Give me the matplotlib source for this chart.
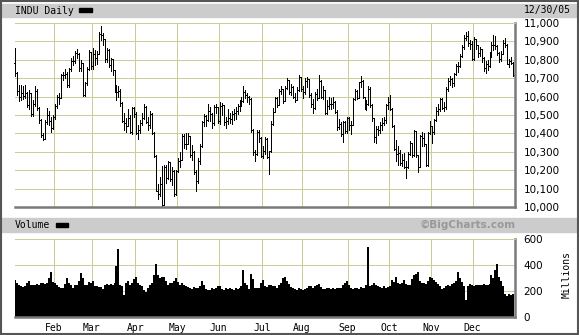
import numpy as np
import matplotlib
matplotlib.use("Agg")
import matplotlib.pyplot as plt
from matplotlib.patches import Rectangle

# trading days per month, Jan..Dec 2005
month_days = [20, 19, 22, 21, 21, 22, 20, 23, 21, 21, 21, 21]
month_labels = ['Feb', 'Mar', 'Apr', 'May', 'Jun', 'Jul', 'Aug', 'Sep', 'Oct', 'Nov', 'Dec']

first_open = 10783

close = [
    10729, 10630, 10597, 10622, 10603, 10621, 10556, 10617, 10505, 10558, 10628, 10539, 10471, 10392, 10368, 10461, 10498, 10467, 10427, 10489,
    10551, 10597, 10593, 10716, 10715, 10724, 10664, 10749, 10796, 10791, 10837, 10834, 10754, 10785, 10611, 10673, 10748, 10841, 10766,
    10830, 10811, 10833, 10940, 10936, 10912, 10805, 10851, 10774, 10804, 10745, 10633, 10626, 10629, 10565, 10470, 10456, 10442, 10485, 10405, 10540, 10504,
    10404, 10421, 10458, 10486, 10546, 10461, 10448, 10508, 10403, 10278, 10087, 10071, 10127, 10012, 10218, 10157, 10242, 10151, 10198, 10070, 10193,
    10251, 10257, 10384, 10340, 10345, 10384, 10281, 10300, 10189, 10140, 10252, 10332, 10464, 10493, 10471, 10523, 10503, 10457, 10542, 10542, 10467,
    10549, 10553, 10460, 10467, 10483, 10476, 10503, 10512, 10523, 10547, 10566, 10578, 10623, 10609, 10596, 10587, 10421, 10297, 10290, 10405, 10374, 10275,
    10303, 10371, 10270, 10303, 10449, 10519, 10590, 10557, 10628, 10640, 10575, 10646, 10689, 10627, 10651, 10596, 10579, 10637, 10705, 10641,
    10623, 10683, 10697, 10610, 10558, 10536, 10615, 10594, 10686, 10600, 10634, 10513, 10550, 10559, 10559, 10569, 10519, 10434, 10450, 10397, 10463, 10413, 10482,
    10447, 10447, 10589, 10633, 10595, 10678, 10683, 10597, 10544, 10558, 10641, 10557, 10481, 10378, 10422, 10419, 10443, 10456, 10473, 10552, 10569,
    10535, 10441, 10317, 10287, 10292, 10238, 10253, 10217, 10216, 10287, 10348, 10285, 10414, 10281, 10215, 10385, 10377, 10344, 10229, 10402, 10440,
    10406, 10472, 10523, 10531, 10586, 10539, 10546, 10640, 10686, 10697, 10675, 10721, 10766, 10766, 10820, 10872, 10916, 10931, 10890, 10888, 10806,
    10912, 10878, 10835, 10856, 10810, 10755, 10778, 10767, 10823, 10883, 10881, 10875, 10836, 10805, 10833, 10889, 10883, 10777, 10796, 10784, 10718,
]

high = [
    10864, 10736, 10665, 10662, 10660, 10665, 10625, 10635, 10618, 10580, 10660, 10640, 10545, 10480, 10400, 10475, 10540, 10520, 10490, 10500,
    10560, 10610, 10620, 10725, 10735, 10750, 10735, 10755, 10810, 10820, 10850, 10860, 10835, 10800, 10785, 10680, 10760, 10855, 10845,
    10865, 10855, 10850, 10950, 10985, 10945, 10915, 10865, 10860, 10810, 10805, 10745, 10665, 10660, 10640, 10570, 10510, 10485, 10530, 10500, 10545, 10545,
    10515, 10445, 10475, 10510, 10560, 10550, 10490, 10520, 10510, 10405, 10280, 10125, 10165, 10225, 10230, 10230, 10250, 10245, 10215, 10200, 10200,
    10265, 10300, 10395, 10395, 10400, 10400, 10385, 10335, 10305, 10200, 10265, 10345, 10470, 10505, 10500, 10560, 10545, 10510, 10555, 10560, 10545,
    10570, 10565, 10550, 10490, 10530, 10510, 10520, 10535, 10545, 10560, 10580, 10600, 10656, 10635, 10620, 10605, 10595, 10425, 10310, 10420, 10420, 10380,
    10330, 10380, 10375, 10305, 10465, 10540, 10600, 10600, 10640, 10660, 10640, 10660, 10700, 10690, 10670, 10655, 10620, 10650, 10720, 10705,
    10660, 10700, 10705, 10695, 10620, 10585, 10625, 10640, 10715, 10690, 10655, 10635, 10580, 10600, 10595, 10600, 10575, 10525, 10480, 10460, 10470, 10465, 10490,
    10490, 10470, 10590, 10640, 10635, 10680, 10710, 10690, 10600, 10580, 10655, 10650, 10560, 10485, 10440, 10440, 10460, 10485, 10490, 10560, 10600,
    10610, 10540, 10445, 10365, 10330, 10310, 10290, 10295, 10250, 10300, 10360, 10350, 10420, 10415, 10285, 10390, 10410, 10400, 10345, 10410, 10470,
    10440, 10480, 10545, 10560, 10590, 10590, 10570, 10650, 10700, 10710, 10700, 10730, 10775, 10790, 10830, 10880, 10935, 10950, 10955, 10905, 10900,
    10925, 10915, 10880, 10870, 10860, 10815, 10795, 10800, 10840, 10895, 10935, 10930, 10880, 10840, 10850, 10905, 10920, 10885, 10805, 10815, 10790,
]

low = [
    10711, 10610, 10575, 10580, 10585, 10590, 10545, 10530, 10495, 10495, 10550, 10525, 10455, 10380, 10365, 10370, 10450, 10445, 10410, 10425,
    10480, 10540, 10560, 10590, 10690, 10700, 10650, 10650, 10740, 10770, 10780, 10810, 10740, 10740, 10605, 10605, 10665, 10745, 10750,
    10750, 10770, 10775, 10830, 10905, 10880, 10790, 10790, 10760, 10740, 10720, 10625, 10580, 10600, 10550, 10460, 10420, 10410, 10440, 10400, 10395, 10490,
    10395, 10370, 10400, 10445, 10480, 10455, 10420, 10430, 10395, 10270, 10085, 10045, 10060, 10005, 10015, 10130, 10150, 10140, 10120, 10060, 10065,
    10190, 10215, 10255, 10320, 10315, 10340, 10270, 10255, 10180, 10085, 10130, 10235, 10325, 10440, 10440, 10465, 10470, 10430, 10445, 10510, 10455,
    10450, 10500, 10445, 10430, 10450, 10455, 10450, 10475, 10480, 10505, 10520, 10550, 10570, 10590, 10570, 10560, 10410, 10280, 10250, 10285, 10355, 10270,
    10265, 10290, 10265, 10180, 10300, 10445, 10515, 10545, 10555, 10615, 10565, 10575, 10640, 10615, 10610, 10590, 10570, 10580, 10630, 10630,
    10595, 10615, 10650, 10600, 10545, 10510, 10535, 10580, 10590, 10590, 10585, 10505, 10505, 10530, 10535, 10540, 10510, 10420, 10425, 10385, 10355, 10400, 10400,
    10420, 10395, 10445, 10580, 10585, 10590, 10650, 10590, 10530, 10525, 10555, 10545, 10470, 10355, 10350, 10390, 10400, 10420, 10445, 10455, 10530,
    10525, 10435, 10310, 10250, 10230, 10230, 10225, 10210, 10155, 10210, 10280, 10270, 10275, 10270, 10190, 10220, 10330, 10330, 10225, 10225, 10395,
    10350, 10395, 10465, 10500, 10520, 10530, 10520, 10530, 10630, 10665, 10650, 10660, 10715, 10735, 10760, 10815, 10860, 10905, 10875, 10860, 10800,
    10800, 10860, 10815, 10820, 10790, 10740, 10730, 10745, 10760, 10815, 10855, 10860, 10825, 10790, 10795, 10830, 10870, 10775, 10760, 10775, 10710,
]

# volume in millions
volume = [
    284, 265, 250, 235, 233, 240, 260, 280, 250, 245, 250, 255, 245, 262, 258, 255, 262, 300, 350, 270,
    260, 245, 230, 220, 225, 255, 297, 265, 250, 225, 245, 250, 275, 340, 300, 250, 245, 270, 260,
    275, 240, 235, 232, 230, 212, 250, 255, 245, 255, 250, 265, 390, 522, 250, 240, 170, 260, 275, 250, 260, 295,
    305, 260, 250, 235, 205, 195, 225, 250, 265, 320, 410, 320, 300, 310, 305, 280, 250, 260, 265, 280, 300,
    270, 250, 265, 245, 240, 230, 225, 215, 230, 220, 225, 240, 280, 245, 215, 210, 210, 220, 215, 225, 235,
    240, 215, 210, 220, 215, 225, 215, 210, 225, 215, 220, 240, 362, 265, 245, 215, 330, 290, 225, 220, 220, 260,
    285, 240, 230, 250, 245, 235, 240, 225, 250, 265, 300, 310, 280, 255, 230, 225, 215, 210, 220, 215,
    210, 215, 220, 240, 235, 225, 240, 245, 255, 230, 215, 215, 220, 225, 215, 220, 215, 220, 225, 225, 245, 260, 275,
    250, 225, 215, 220, 225, 215, 230, 220, 225, 250, 540, 235, 245, 260, 245, 235, 230, 225, 235, 225, 230,
    240, 285, 270, 305, 260, 255, 260, 285, 255, 250, 245, 290, 320, 330, 345, 280, 260, 265, 255, 280, 305,
    300, 285, 270, 255, 240, 215, 225, 240, 250, 235, 255, 260, 280, 350, 300, 270, 240, 130, 235, 255, 250,
    240, 250, 245, 250, 245, 255, 250, 245, 255, 320, 300, 365, 410, 310, 280, 240, 175, 160, 180, 170, 180,
]

W, H = 579, 335
GRID = '#CCCC99'
FRAME = '#7a7a7a'


def fx(x):
    return x / W


def fy(y):
    return 1 - y / H


days = np.arange(len(close))
opens = [first_open] + close[:-1]
starts = np.cumsum([0] + month_days[:-1])
bounds = starts[1:] - 0.5
xlim = (-0.15, 251.85)

fig = plt.figure(figsize=(W / 100, H / 100), dpi=100)
fig.patch.set_facecolor('white')

# header bars
for y0, y1 in [(4, 17), (218, 232)]:
    fig.patches.append(Rectangle((fx(2), fy(y1)), fx(575), (y1 - y0) / H,
                                 transform=fig.transFigure, color='#CCCCCC', zorder=0))
# outer border
fig.patches.append(Rectangle((0.001, 0.002), 0.997, 0.996, transform=fig.transFigure,
                             fill=False, edgecolor='#555555', linewidth=1.5))

mono = 'DejaVu Sans Mono'
fig.text(fx(15), fy(10.5), 'INDU Daily', family=mono, fontsize=7, va='center', ha='left')
fig.patches.append(Rectangle((fx(79), fy(11.5)), fx(13), 3.5 / H,
                             transform=fig.transFigure, color='black'))
fig.text(fx(571), fy(10.5), '12/30/05', family=mono, fontsize=7, va='center', ha='right')

fig.text(fx(15), fy(225), 'Volume', family=mono, fontsize=7, va='center', ha='left')
fig.patches.append(Rectangle((fx(56), fy(226.5)), fx(12), 3.5 / H,
                             transform=fig.transFigure, color='black'))
fig.text(fx(516), fy(225), '\u00a9BigCharts.com', fontsize=7.5, fontweight='bold',
         color='#999999', va='center', ha='right')
fig.text(fx(567), fy(275), 'Millions', family=mono, fontsize=7, rotation=90,
         va='center', ha='center')


def style(ax):
    ax.set_xlim(*xlim)
    ax.set_xticks(bounds)
    ax.grid(True, color=GRID, linewidth=0.7, antialiased=False)
    ax.set_axisbelow(True)
    ax.spines['left'].set_visible(False)
    ax.spines['top'].set_color(GRID)
    ax.spines['top'].set_linewidth(0.7)
    for s in ['right', 'bottom']:
        ax.spines[s].set_color(FRAME)
        ax.spines[s].set_linewidth(1.8)
    ax.yaxis.tick_right()
    ax.tick_params(length=0, labelsize=7.5, pad=6)


# price panel
ax = fig.add_axes([fx(15), fy(207), fx(500), 184 / H])
style(ax)
ax.set_ylim(10000, 11000)
ax.set_yticks(np.arange(10000, 11001, 100))
ax.set_yticklabels([f'{v:,}' for v in range(10000, 11001, 100)])
ax.set_xticklabels([])
bar_kw = dict(color='black', linewidth=0.7, antialiased=False, clip_on=False)
ax.vlines(days, low, high, **bar_kw)
ax.hlines(close, days, days + 0.5, **bar_kw)
ax.hlines(opens, days - 0.5, days, **bar_kw)

# volume panel
av = fig.add_axes([fx(15), fy(317), fx(500), 78 / H])
style(av)
av.set_ylim(0, 600)
av.set_yticks([0, 200, 400, 600])
av.bar(days, volume, width=1.0, color='black', linewidth=0)
av.set_xticklabels(month_labels, family=mono, fontsize=7)
av.tick_params(axis='x', pad=4)

fig.savefig('out.png', dpi=100)
